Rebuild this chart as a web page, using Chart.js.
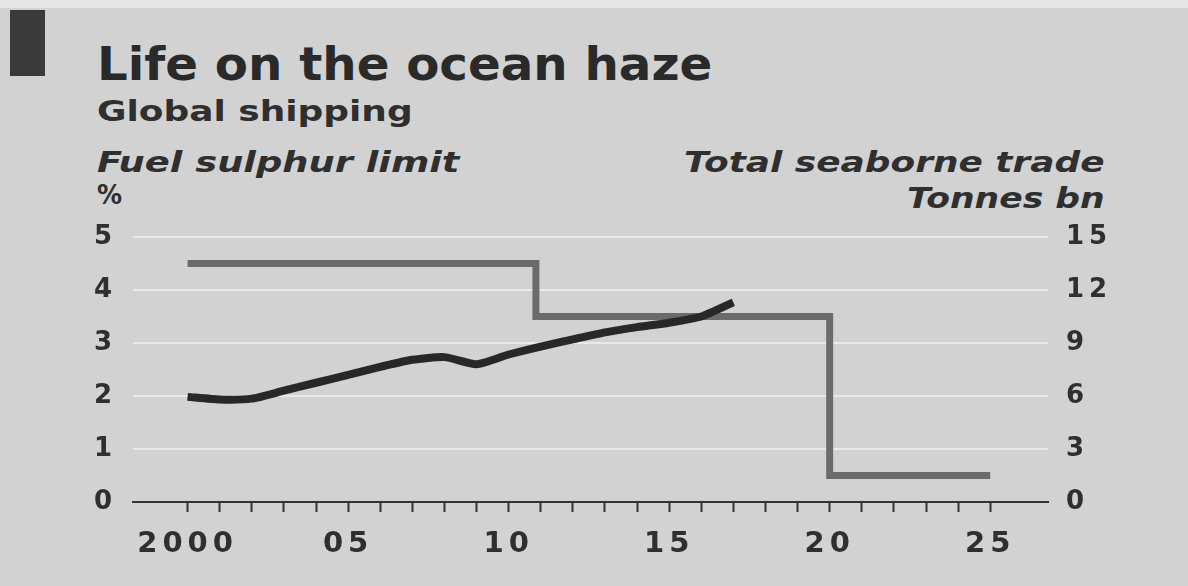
<!DOCTYPE html>
<html>
<head>
<meta charset="utf-8">
<script src="https://cdn.jsdelivr.net/npm/chart.js@4.4.1/dist/chart.umd.min.js"></script>
<style>
  body { margin: 0; width: 1188px; height: 586px; background: #e6e6e6; overflow: hidden;
         font-family: "DejaVu Sans", sans-serif; color: #2f2f2f; position: relative; }
  #panel { position: absolute; left: 0; top: 8px; width: 1188px; height: 578px; background: #d2d2d2; }
  #bar { position: absolute; left: 10px; top: 10px; width: 35px; height: 66px; background: #3a3a3a; }
  .t { position: absolute; white-space: nowrap; line-height: 1; font-weight: bold; display: inline-block; }
  .l { transform-origin: left top; }
  .r { transform-origin: right top; }
  #ChartCanvas { position: absolute; left: 0; top: 200px; }
</style>
</head>
<body>
<div id="panel"></div>
<div id="bar"></div>
<span class="t l" data-w="615" style="left:97px; top:41px; font-size:46px; color:#2a2a2a">Life on the ocean haze</span>
<span class="t l" data-w="316" style="left:97px; top:97px; font-size:29px">Global shipping</span>
<span class="t l" data-w="363" style="left:97px; top:148px; font-size:29px; font-style:italic">Fuel sulphur limit</span>
<span class="t l" data-w="25" style="left:97px; top:182px; font-size:26px">%</span>
<span class="t r" data-w="421" data-right="1105" style="top:148px; font-size:29px; font-style:italic">Total seaborne trade</span>
<span class="t r" data-w="198" data-right="1105" style="top:184px; font-size:29px; font-style:italic">Tonnes bn</span>
<canvas id="ChartCanvas" width="1188" height="386"></canvas>
<script>
// seaborne trade, tonnes bn (right axis)
const tradeYears = [2000, 2001, 2002, 2003, 2004, 2005, 2006, 2007, 2008,
                    2009, 2010, 2011, 2012, 2013, 2014, 2015, 2016, 2017];
const tradeValues = [5.95, 5.8, 5.85, 6.3, 6.75, 7.2, 7.65, 8.05, 8.2,
                     7.8, 8.35, 8.8, 9.2, 9.6, 9.9, 10.15, 10.5, 11.3];

// fuel sulphur limit, % (left axis, stepped)
const sulphurYears = [2000, 2010.85, 2020, 2025];
const sulphurValues = [4.5, 3.5, 0.5, 0.5];

const xTickLabels = ['2000', '05', '10', '15', '20', '25'];
const leftTicks = [0, 1, 2, 3, 4, 5];
const rightTicks = [0, 3, 6, 9, 12, 15];

function fitTexts() {
  document.querySelectorAll('.t').forEach(el => {
    const w = el.offsetWidth;
    const target = +el.dataset.w;
    if (el.dataset.right) el.style.left = (+el.dataset.right - w) + 'px';
    el.style.transform = 'scaleX(' + (target / w) + ')';
  });
}

function lineChart() {
  const myChart = document.getElementById('ChartCanvas');
  const tickFont = { family: 'DejaVu Sans', size: 26, weight: 'bold' };

  new Chart(myChart, {
    type: 'line',
    data: {
      datasets: [{
        label: 'Total seaborne trade',
        data: tradeYears.map((x, i) => ({ x: x, y: tradeValues[i] })),
        yAxisID: 'yR',
        borderColor: '#282828',
        borderWidth: 8,
        tension: 0.2,
        pointRadius: 0,
        order: 0
      }, {
        label: 'Fuel sulphur limit',
        data: sulphurYears.map((x, i) => ({ x: x, y: sulphurValues[i] })),
        yAxisID: 'y',
        borderColor: '#6b6b6b',
        borderWidth: 7,
        stepped: 'before',
        borderJoinStyle: 'miter',
        pointRadius: 0,
        order: 1
      }]
    },
    options: {
      responsive: false,
      maintainAspectRatio: false,
      animation: false,
      layout: { padding: { top: 37, bottom: 24, left: 0, right: 0 } },
      plugins: { legend: { display: false }, tooltip: { enabled: false } },
      scales: {
        x: {
          type: 'linear',
          position: 'bottom',
          min: 1998.3,
          max: 2026.8,
          afterFit: s => { s.height = 60; },
          afterBuildTicks: s => {
            const t = [];
            for (let y = 2000; y <= 2025; y++) t.push({ value: y });
            s.ticks = t;
          },
          grid: { drawOnChartArea: false, drawTicks: true, tickLength: 10, tickColor: '#333', tickWidth: 2 },
          border: { display: true, color: '#333', width: 2 },
          ticks: {
            autoSkip: false,
            maxRotation: 0,
            padding: 15,
            color: '#2f2f2f',
            font: { family: 'DejaVu Sans', size: 29, weight: 'bold' },
            callback: v => (v % 5 === 0 ? xTickLabels[(v - 2000) / 5] : '')
          }
        },
        y: {
          position: 'left',
          min: 0,
          max: 5,
          afterFit: s => { s.width = 133; },
          afterBuildTicks: s => { s.ticks = leftTicks.map(v => ({ value: v })); },
          grid: { color: c => (c.tick.value === 0 ? 'rgba(0,0,0,0)' : '#e9e9e9'), lineWidth: 2, drawTicks: false },
          border: { display: false },
          ticks: { padding: 16, color: '#2f2f2f', font: tickFont }
        },
        yR: {
          position: 'right',
          min: 0,
          max: 15,
          afterFit: s => { s.width = 140; },
          afterBuildTicks: s => { s.ticks = rightTicks.map(v => ({ value: v })); },
          grid: { display: false },
          border: { display: false },
          ticks: { padding: 10, color: '#2f2f2f', font: tickFont }
        }
      }
    },
    plugins: [{
      id: 'wideDigits',
      beforeDraw: chart => { chart.ctx.letterSpacing = '5px'; }
    }]
  });
}

document.addEventListener("DOMContentLoaded", () => {
  fitTexts();
  lineChart();
});
</script>
</body>
</html>
